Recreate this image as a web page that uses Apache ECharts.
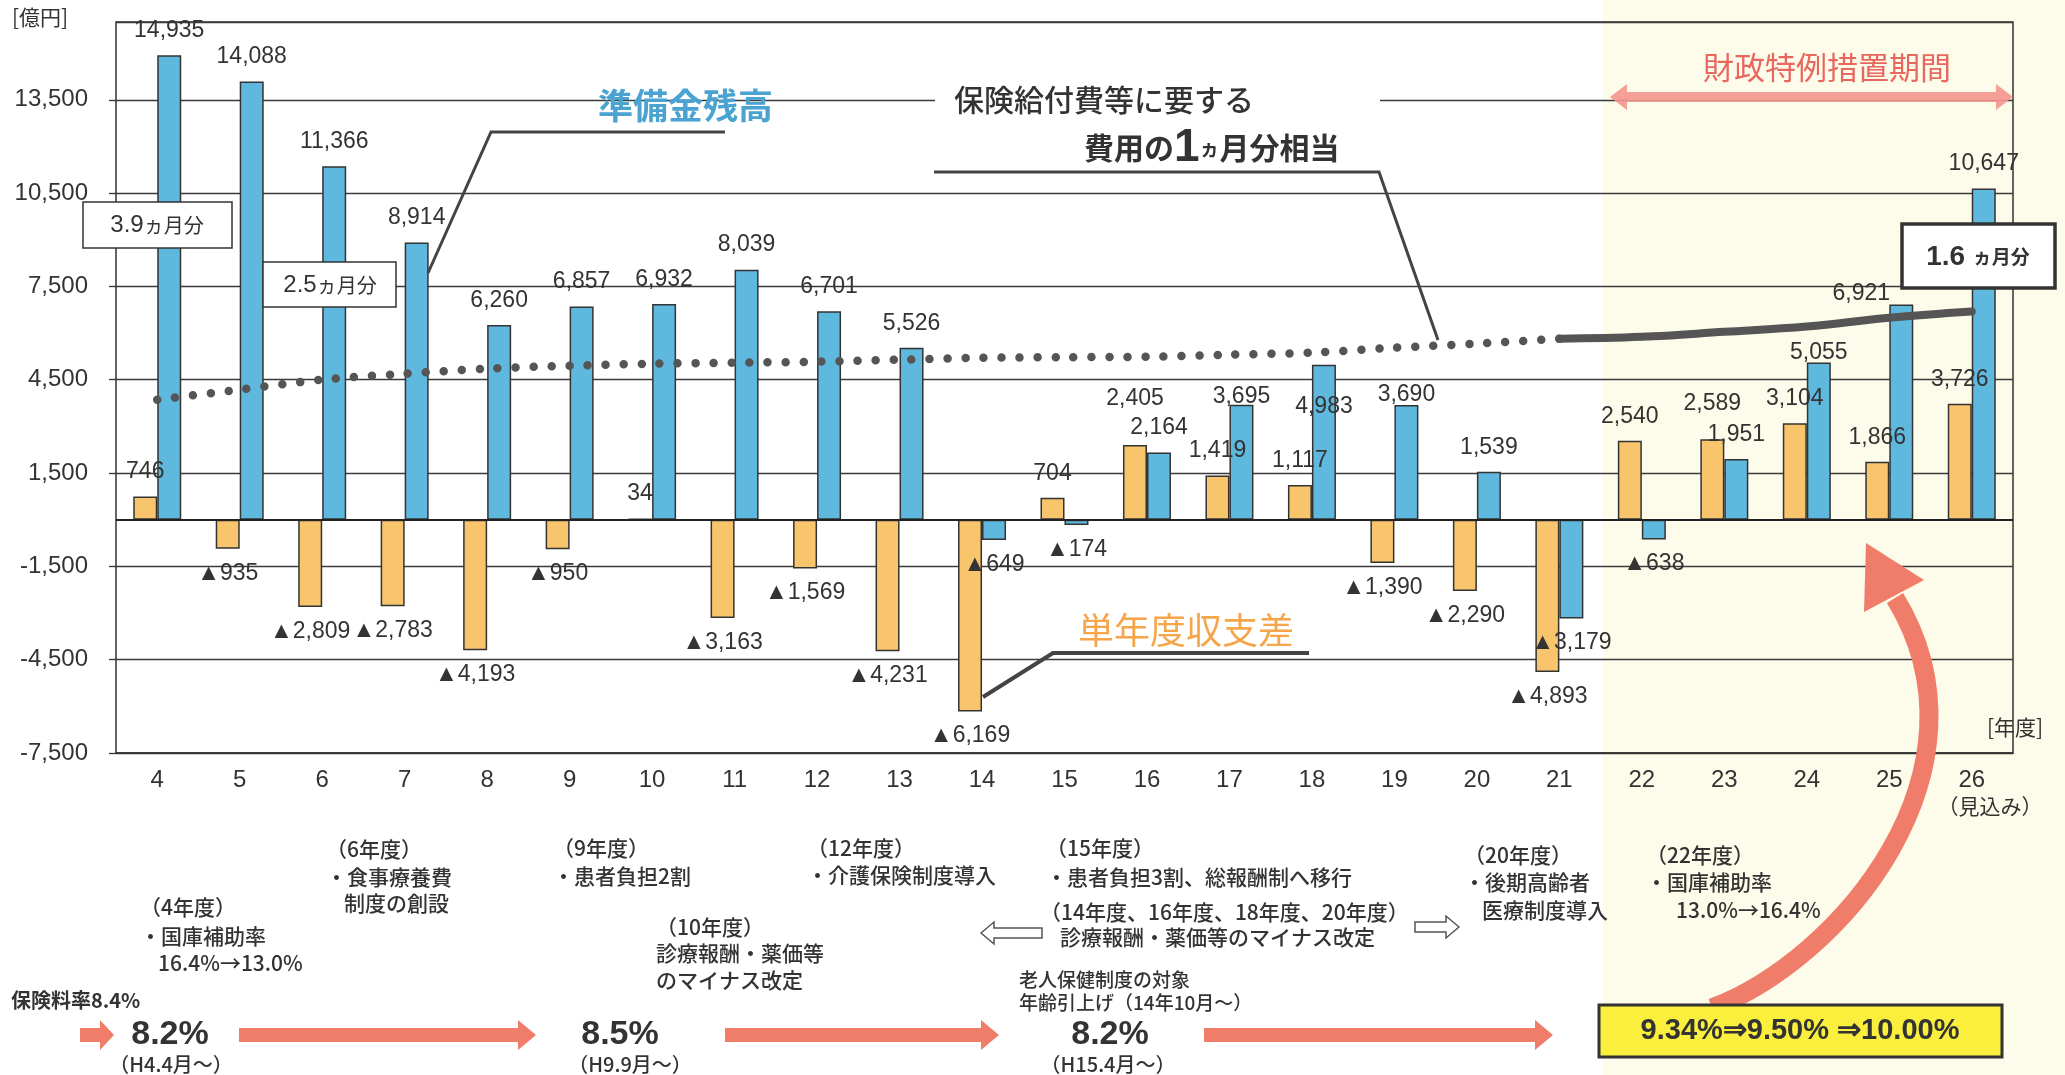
<!DOCTYPE html>
<html><head><meta charset="utf-8">
<script src="https://cdn.jsdelivr.net/npm/echarts@6/dist/echarts.min.js"></script>
<style>html,body{margin:0;padding:0;background:#fff}#c{width:2065px;height:1075px}</style>
</head><body><div id="c"></div>
<script>
// ---- data ----
const categories = ['4','5','6','7','8','9','10','11','12','13','14','15','16','17','18','19','20','21','22','23','24','25','26'];
// 単年度収支差 (億円)
const balanceDiff = [746,-935,-2809,-2783,-4193,-950,34,-3163,-1569,-4231,-6169,704,2405,1419,1117,-1390,-2290,-4893,2540,2589,3104,1866,3726];
// 準備金残高 (億円)
const reserveBalance = [14935,14088,11366,8914,6260,6857,6932,8039,6701,5526,-649,-174,2164,3695,4983,3690,1539,-3179,-638,1951,5055,6921,10647];
// 保険給付費等に要する費用の1ヵ月分相当 (dotted part, 4-21年度)
const oneMonthDotted = [3858,4180,4500,4694,4855,4951,5015,5047,5080,5144,5208,5224,5240,5305,5369,5530,5658,5820,null,null,null,null,null];
// solid part (21-26年度)
const oneMonthSolid = [null,null,null,null,null,null,null,null,null,null,null,null,null,null,null,null,null,5820,5880,6040,6210,6490,6690];
const yMin = -7500, yMax = 16000, yStep = 3000;

// label nudges (style only)
const orangeNudge = {'16':[0,-22], '23':[0,-11]};
const blueNudge = {'17':[0,16], '18':[0,66], '19':[0,14], '24':[0,15], '25':[-40,14]};

const NUM = "'Liberation Sans', Arial, sans-serif";
const JP = "'Noto Sans CJK JP', sans-serif";
const fmt = v => (v < 0 ? '▲' : '') + Math.abs(v).toLocaleString('en-US');

function barData(values, nudge) {
  return values.map((v, i) => ({
    value: v,
    label: { position: v < 0 ? 'bottom' : 'top', offset: nudge[categories[i]] || [0, 0] }
  }));
}

const chart = echarts.init(document.getElementById('c'), null, {renderer: 'canvas'});

function txt(text, x, y, size, opts) {
  opts = opts || {};
  const weight = opts.bold ? 'bold ' : (opts.weight ? opts.weight + ' ' : '');
  return {
    type: 'text', silent: true, z: opts.z || 50,
    style: {
      text: text, x: x, y: y,
      font: weight + size + 'px ' + (opts.family || JP),
      fill: opts.fill || '#333',
      align: opts.align || 'left', textAlign: opts.align || 'left',
      verticalAlign: 'middle', textVerticalAlign: 'middle',
      rich: opts.rich
    }
  };
}
function blockArrow(x1, x2, cy, sh, hl, hh, color) {
  return { type: 'polygon', silent: true, z: 40,
    shape: { points: [[x1, cy - sh], [x2 - hl, cy - sh], [x2 - hl, cy - hh], [x2, cy], [x2 - hl, cy + hh], [x2 - hl, cy + sh], [x1, cy + sh]] },
    style: { fill: color } };
}
function hollowArrow(x1, x2, cy, dir) {
  const sh = 5, hh = 11, hl = 13;
  let pts;
  if (dir < 0) pts = [[x1, cy], [x1 + hl, cy - hh], [x1 + hl, cy - sh], [x2, cy - sh], [x2, cy + sh], [x1 + hl, cy + sh], [x1 + hl, cy + hh]];
  else pts = [[x2, cy], [x2 - hl, cy - hh], [x2 - hl, cy - sh], [x1, cy - sh], [x1, cy + sh], [x2 - hl, cy + sh], [x2 - hl, cy + hh]];
  return { type: 'polygon', silent: true, z: 40, shape: { points: pts }, style: { fill: '#fff', stroke: '#555', lineWidth: 1.5 } };
}
function box(x, y, w, h, lw) {
  return { type: 'rect', silent: true, z: 45, shape: { x: x, y: y, width: w, height: h }, style: { fill: '#fff', stroke: '#333', lineWidth: lw } };
}
function poly(points, lw, color) {
  return { type: 'polyline', silent: true, z: 40, shape: { points: points }, style: { stroke: color || '#444', lineWidth: lw, fill: null } };
}

const red = '#f07c6a';
const graphics = [
  // shaded special period
  { type: 'rect', silent: true, z: -10, shape: { x: 1603, y: 0, width: 462, height: 1075 }, style: { fill: '#fdfbea' } },
  txt('[億円]', 12, 17, 21),
  txt('[年度]', 1987, 727, 21),
  txt('（見込み）', 1990, 806, 21, {align: 'center'}),
  // 準備金残高
  txt('準備金残高', 598, 106, 35, {fill: '#4aa3d0', bold: true}),
  poly([[428, 273], [491, 132], [725, 132]], 3),
  // 1ヵ月分相当
  { type: 'rect', silent: true, z: 30, shape: { x: 935, y: 86, width: 445, height: 28 }, style: { fill: '#fff' } },
  txt('保険給付費等に要する', 954, 100, 30, {fill: '#333', weight: 500}),
  txt('{a|費用の}{b|1}{c|ヵ}{a|月分相当}', 1084, 148, 30, {rich: {
    a: { font: 'bold 30px ' + JP, fill: '#333' },
    b: { font: 'bold 46px ' + NUM, fill: '#333' },
    c: { font: 'bold 20px ' + JP, fill: '#333' }
  }}),
  poly([[934, 172], [1379, 172], [1438, 340]], 3),
  // 財政特例措置期間
  txt('財政特例措置期間', 1827, 67, 31, {fill: '#e8685f', align: 'center'}),
  { type: 'polygon', silent: true, z: 40, shape: { points: [[1610, 97], [1627, 84], [1627, 92], [1996, 92], [1996, 84], [2013, 97], [1996, 110], [1996, 102], [1627, 102], [1627, 110]] }, style: { fill: '#f4968e', opacity: 0.9 } },
  // 単年度収支差
  txt('単年度収支差', 1186, 630, 36, {fill: '#f5a54a', align: 'center'}),
  poly([[983, 697], [1053, 653], [1309, 653]], 4),
  // month boxes
  box(83, 202, 149, 46, 1.5),
  txt('{a|3.9}{b|ヵ月分}', 157, 225, 24, {align: 'center', rich: { a: { font: '24px ' + NUM, fill: '#333' }, b: { font: '20px ' + JP, fill: '#333' } }}),
  box(263, 262, 133, 45, 1.5),
  txt('{a|2.5}{b|ヵ月分}', 330, 285, 24, {align: 'center', rich: { a: { font: '24px ' + NUM, fill: '#333' }, b: { font: '20px ' + JP, fill: '#333' } }}),
  box(1902, 224, 153, 64, 3.5),
  txt('{a|1.6 }{b|ヵ月分}', 1978, 257, 28, {align: 'center', rich: { a: { font: 'bold 28px ' + NUM, fill: '#333' }, b: { font: 'bold 19px ' + JP, fill: '#333' } }}),
  // bottom annotations
  txt('（4年度）', 140, 907, 21, {weight: 500}),
  txt('・国庫補助率', 140, 936, 21, {weight: 500}),
  txt('16.4%→13.0%', 158, 963, 21, {weight: 500}),
  txt('（6年度）', 326, 849, 21, {weight: 500}),
  txt('・食事療養費', 326, 877, 21, {weight: 500}),
  txt('制度の創設', 344, 903, 21, {weight: 500}),
  txt('（9年度）', 553, 848, 21, {weight: 500}),
  txt('・患者負担2割', 553, 876, 21, {weight: 500}),
  txt('（10年度）', 656, 927, 21, {weight: 500}),
  txt('診療報酬・薬価等', 656, 953, 21, {weight: 500}),
  txt('のマイナス改定', 656, 980, 21, {weight: 500}),
  txt('（12年度）', 807, 848, 21, {weight: 500}),
  txt('・介護保険制度導入', 807, 875, 21, {weight: 500}),
  txt('（15年度）', 1046, 848, 21, {weight: 500}),
  txt('・患者負担3割、総報酬制へ移行', 1046, 877, 21, {weight: 500}),
  txt('（14年度、16年度、18年度、20年度）', 1040, 912, 21, {weight: 500}),
  txt('診療報酬・薬価等のマイナス改定', 1060, 937, 21, {weight: 500}),
  txt('老人保健制度の対象', 1019, 980, 19, {weight: 500}),
  txt('年齢引上げ（14年10月～）', 1019, 1003, 19, {weight: 500}),
  txt('（20年度）', 1464, 855, 21, {weight: 500}),
  txt('・後期高齢者', 1464, 882, 21, {weight: 500}),
  txt('医療制度導入', 1482, 910, 21, {weight: 500}),
  txt('（22年度）', 1646, 855, 21, {weight: 500}),
  txt('・国庫補助率', 1646, 882, 21, {weight: 500}),
  txt('13.0%→16.4%', 1676, 910, 21, {weight: 500}),
  hollowArrow(981, 1042, 933, -1),
  hollowArrow(1415, 1459, 927, 1),
  txt('保険料率8.4%', 11, 1000, 20, {bold: true}),
  blockArrow(80, 114, 1035, 7, 14, 15, red),
  txt('8.2%', 170, 1035, 34, {bold: true, family: NUM, align: 'center'}),
  txt('（H4.4月～）', 171, 1064, 20, {align: 'center', weight: 500}),
  blockArrow(239, 536, 1035, 7, 18, 15, red),
  txt('8.5%', 620, 1035, 34, {bold: true, family: NUM, align: 'center'}),
  txt('（H9.9月～）', 630, 1064, 20, {align: 'center', weight: 500}),
  blockArrow(725, 999, 1035, 7, 18, 15, red),
  txt('8.2%', 1110, 1035, 34, {bold: true, family: NUM, align: 'center'}),
  txt('（H15.4月～）', 1108, 1064, 20, {align: 'center', weight: 500}),
  blockArrow(1204, 1553, 1035, 7, 18, 15, red),
  // curved arrow
  { type: 'bezierCurve', silent: true, z: 38, shape: { x1: 1712, y1: 1008, cpx1: 1840, cpy1: 960, cpx2: 2000, cpy2: 770, x2: 1895, y2: 598 }, style: { stroke: red, lineWidth: 19, fill: null } },
  { type: 'polygon', silent: true, z: 39, shape: { points: [[1866, 543], [1864, 612], [1924, 580]] }, style: { fill: red } },
  // yellow box
  { type: 'rect', silent: true, z: 45, shape: { x: 1599, y: 1005, width: 403, height: 52 }, style: { fill: '#f9ef3c', stroke: '#333', lineWidth: 3 } },
  txt('9.34%⇒9.50% ⇒10.00%', 1800, 1031, 29, {bold: true, family: NUM, align: 'center'})
];

const option = {
  animation: false,
  backgroundColor: '#fff',
  grid: { left: 116, right: 52, top: 22, bottom: 322, show: true, borderColor: '#333', borderWidth: 1.5, backgroundColor: 'transparent', outerBoundsMode: 'none' },
  xAxis: {
    type: 'category', data: categories,
    axisLine: { show: true, onZero: false, lineStyle: { color: '#333', width: 1.5 } },
    axisTick: { show: false },
    axisLabel: { fontSize: 24, color: '#333', fontFamily: NUM, margin: 15 },
    splitLine: { show: false }
  },
  yAxis: {
    type: 'value', min: yMin, max: yMax, interval: yStep,
    axisLine: { show: false },
    axisTick: { show: true, length: 7, lineStyle: { color: '#333', width: 1.3 } },
    axisLabel: { fontSize: 24, color: '#333', fontFamily: NUM, margin: 28, showMaxLabel: false,
      formatter: v => v.toLocaleString('en-US') },
    splitLine: { show: true, lineStyle: { color: '#3a3a3a', width: 1.3 } }
  },
  series: [
    { name: '単年度収支差', type: 'bar', data: barData(balanceDiff, orangeNudge), barWidth: 24, barGap: '0%',
      itemStyle: { color: '#f9c56c', borderColor: '#333', borderWidth: 1.5 },
      label: { show: true, distance: 13, fontSize: 23, color: '#333', fontFamily: NUM, formatter: p => fmt(p.value) },
      markLine: { silent: true, symbol: 'none', label: { show: false }, lineStyle: { color: '#222', width: 2, type: 'solid' }, data: [{ yAxis: 0 }] }
    },
    { name: '準備金残高', type: 'bar', data: barData(reserveBalance, blueNudge), barWidth: 24,
      itemStyle: { color: '#5fb9df', borderColor: '#333', borderWidth: 1.5 },
      label: { show: true, distance: 13, fontSize: 23, color: '#333', fontFamily: NUM, formatter: p => fmt(p.value) }
    },
    { name: '1ヵ月分(点線)', type: 'line', data: oneMonthDotted, smooth: 0.3, symbol: 'none', z: 5,
      lineStyle: { color: '#555', width: 8.5, type: [0, 18], cap: 'round' } },
    { name: '1ヵ月分(実線)', type: 'line', data: oneMonthSolid, smooth: 0.4, symbol: 'none', z: 5,
      lineStyle: { color: '#555', width: 8, cap: 'round' } }
  ],
  graphic: { elements: graphics }
};
chart.setOption(option);
</script>
</body></html>
